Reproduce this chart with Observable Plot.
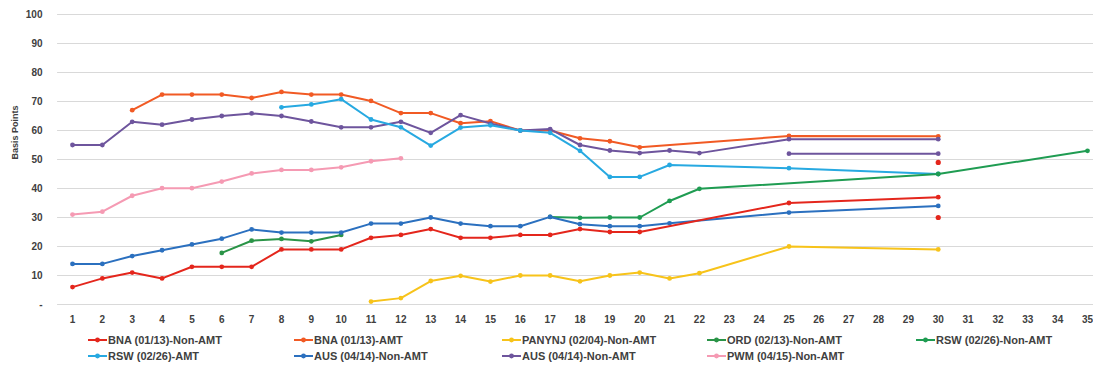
<!DOCTYPE html>
<html>
<head>
<meta charset="utf-8">
<script src="https://cdn.jsdelivr.net/npm/d3@7"></script>
<script src="https://cdn.jsdelivr.net/npm/@observablehq/plot@0.6"></script>
<style>
  html, body { margin: 0; padding: 0; background: #fff; }
  body { width: 1093px; height: 366px; overflow: hidden; font-family: "Liberation Sans", Arial, sans-serif; }
  #chart svg { display: block; }
  .legend { position: relative; height: 36px; font: bold 11px "Liberation Sans", Arial, sans-serif; color: #404040; }
  .item { position: absolute; display: flex; align-items: center; height: 14px; white-space: nowrap; }
  .item svg { margin-right: 1px; }
</style>
</head>
<body>
<div id="chart"></div>
<div class="legend" id="legend"></div>
<script>
// ---- data ----
const xTicks = d3.range(1, 36);
const yTicks = [0, 10, 20, 30, 40, 50, 60, 70, 80, 90, 100];

const bnaNonAmtX = [1,2,3,4,5,6,7,8,9,10,11,12,13,14,15,16,17,18,19,20,25,30];
const bnaNonAmtY = [6,9,11,9,13,13,13,19,19,19,23,24,26,23,23,24,24,26,25,25,35,37];

const bnaAmtX = [3,4,5,6,7,8,9,10,11,12,13,14,15,16,17,18,19,20,25,30];
const bnaAmtY = [67,72.4,72.4,72.4,71.2,73.3,72.4,72.4,70.2,66,66,62.5,63.2,60,60,57.3,56.3,54.2,58.1,58];

const panynjX = [11,12,13,14,15,16,17,18,19,20,21,22,25,30];
const panynjY = [1,2.2,8.1,9.9,7.9,10,10,8,10,11,9,10.8,20,19];

const ordX = [6,7,8,9,10];
const ordY = [17.8,22,22.6,21.8,24];

const rswNonAmtX = [17,18,19,20,21,22,30,35];
const rswNonAmtY = [30.2,29.9,30,30,35.7,39.9,45,53];

const rswAmtX = [8,9,10,11,12,13,14,15,16,17,18,19,20,21,25,30];
const rswAmtY = [68,69,70.8,63.8,61.1,54.8,61,61.8,60,59.2,53,44,44,48.1,47,45];

const ausNonAmtX = [1,2,3,4,5,6,7,8,9,10,11,12,13,14,15,16,17,18,19,20,21,25,30];
const ausNonAmtY = [14,14,16.7,18.7,20.7,22.7,25.9,24.8,24.8,24.8,27.9,27.9,30,27.9,27,27,30.2,27.7,27,27,28,31.7,34];

const ausAmtX = [1,2,3,4,5,6,7,8,9,10,11,12,13,14,15,16,17,18,19,20,21,22,25,30];
const ausAmtY = [55,55,63,62,63.8,65,65.9,65,63.1,61.1,61.1,63,59.2,65.3,62.4,60,60.5,55,53.1,52.2,53.1,52.2,57,57];

const ausAmt2X = [25,30];
const ausAmt2Y = [52,52];

const pwmX = [1,2,3,4,5,6,7,8,9,10,11,12];
const pwmY = [31,32,37.5,40.1,40.1,42.4,45.2,46.4,46.4,47.3,49.4,50.4];

const redDotsX = [30,30];
const redDotsY = [49,30];

const legendLabels = [
  "BNA (01/13)-Non-AMT", "BNA (01/13)-AMT", "PANYNJ (02/04)-Non-AMT", "ORD (02/13)-Non-AMT", "RSW (02/26)-Non-AMT",
  "RSW (02/26)-AMT", "AUS (04/14)-Non-AMT", "AUS (04/14)-Non-AMT", "PWM (04/15)-Non-AMT"
];

// ---- styling ----
const C = {
  bnaNon: "#e4261c", bnaAmt: "#f15a24", panynj: "#f7c31a", ord: "#2a9447", rswNon: "#1f9c52",
  rswAmt: "#27a9e1", ausNon: "#2b70bf", ausAmt: "#6e559d", pwm: "#f59ab3"
};

const series = [
  {x: bnaAmtX, y: bnaAmtY, c: C.bnaAmt},
  {x: ausAmtX, y: ausAmtY, c: C.ausAmt},
  {x: ausAmt2X, y: ausAmt2Y, c: C.ausAmt},
  {x: rswAmtX, y: rswAmtY, c: C.rswAmt},
  {x: pwmX, y: pwmY, c: C.pwm},
  {x: rswNonAmtX, y: rswNonAmtY, c: C.rswNon},
  {x: ordX, y: ordY, c: C.ord},
  {x: ausNonAmtX, y: ausNonAmtY, c: C.ausNon},
  {x: bnaNonAmtX, y: bnaNonAmtY, c: C.bnaNon},
  {x: panynjX, y: panynjY, c: C.panynj}
];
const rows = (s) => s.x.map((x, i) => ({x, y: s.y[i]}));

const marks = [
  Plot.ruleY(yTicks, {x1: 0.5, x2: 36, stroke: "#d9d9d9", strokeWidth: 1.2}),
  Plot.axisY(yTicks, {tickSize: 0, tickPadding: 30, tickFormat: d => d === 0 ? "-" : d, fontSize: 10, fontWeight: "bold", fill: "#404040", label: null}),
  Plot.axisX(xTicks, {tickSize: 0, tickPadding: 11, fontSize: 10, fontWeight: "bold", fill: "#404040", label: null}),
  Plot.text(["Basis Points"], {frameAnchor: "left", rotate: -90, dx: -57, fontSize: 9, fontWeight: "bold", fill: "#404040"})
];
for (const s of series) {
  const d = rows(s);
  marks.push(Plot.line(d, {x: "x", y: "y", stroke: s.c, strokeWidth: 2}));
  marks.push(Plot.dot(d, {x: "x", y: "y", fill: s.c, r: 2.4}));
}
marks.push(Plot.dot(redDotsX.map((x, i) => ({x, y: redDotsY[i]})), {x: "x", y: "y", fill: C.bnaNon, r: 2.6}));

const chart = Plot.plot({
  width: 1093, height: 330,
  marginLeft: 72, marginRight: 6, marginTop: 14, marginBottom: 26,
  style: {fontFamily: "'Liberation Sans', Arial, sans-serif", background: "#fff", overflow: "hidden"},
  x: {domain: [1, 35], axis: null},
  y: {domain: [0, 100], axis: null},
  marks
});
document.getElementById("chart").appendChild(chart);

// ---- legend ----
const legendColors = [C.bnaNon, C.bnaAmt, C.panynj, C.ord, C.rswNon, C.rswAmt, C.ausNon, C.ausAmt, C.pwm];
const colX = [88, 294, 502, 707, 916];
const leg = document.getElementById("legend");
legendLabels.forEach((lab, i) => {
  const row = i < 5 ? 0 : 1, col = i < 5 ? i : i - 5;
  const el = document.createElement("div");
  el.className = "item";
  el.style.left = colX[col] + "px";
  el.style.top = (3 + row * 16) + "px";
  el.innerHTML = `<svg width="19" height="8"><line x1="0" y1="4" x2="19" y2="4" stroke="${legendColors[i]}" stroke-width="2"/><circle cx="9.5" cy="4" r="2.4" fill="${legendColors[i]}"/></svg><span>${lab}</span>`;
  leg.appendChild(el);
});
</script>
</body>
</html>
